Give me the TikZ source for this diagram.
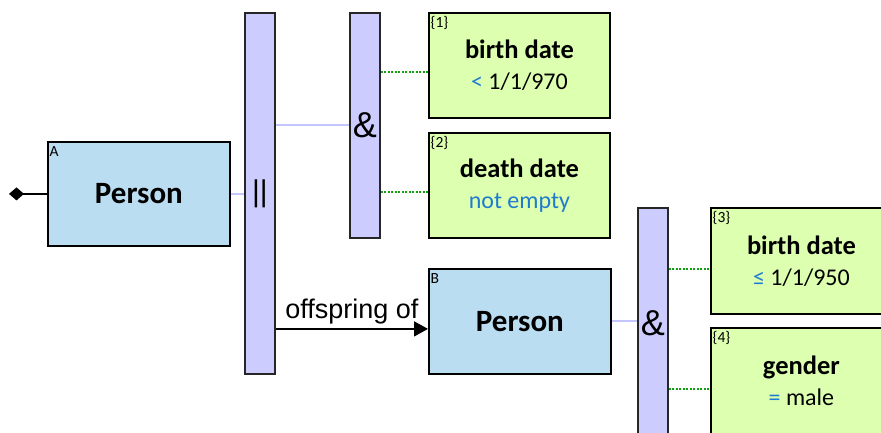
\documentclass[tikz,border=0pt]{standalone}
\usepackage{fontspec}
\setmainfont{Carlito}
\newfontfamily\arial{Liberation Sans}
\usetikzlibrary{arrows.meta}
\definecolor{clsfill}{HTML}{BBDDF2}
\definecolor{barfill}{HTML}{CCCCFF}
\definecolor{condfill}{HTML}{DDFFB0}
\definecolor{qblue}{HTML}{1E7BD0}
\definecolor{dotgreen}{HTML}{11A011}
\definecolor{lav}{HTML}{C4C4FF}
\tikzset{
  cls/.style={draw=black, line width=1.8pt, fill=clsfill, anchor=north west, inner sep=0pt,
    minimum width=182pt, minimum height=104pt, font=\fontsize{31}{34}\selectfont\bfseries},
  opbar/.style={draw=black!85, line width=1.8pt, fill=barfill, anchor=north west, inner sep=0pt,
    minimum width=30pt, font=\arial\fontsize{36}{36}\selectfont},
  cond/.style={draw=black, line width=1.8pt, fill=condfill, anchor=north west, inner sep=0pt,
    minimum width=181pt, minimum height=105pt, align=center, font=\fontsize{24}{31}\selectfont},
  tag/.style={anchor=north west, inner xsep=2.5pt, inner ysep=3pt, text height=12pt,
    font=\fontsize{15.5}{15.5}\selectfont},
  lavline/.style={draw=lav, line width=2pt},
  dotline/.style={draw=dotgreen, line width=2pt, dash pattern=on 2pt off 1.5pt}
}
\begin{document}
\begin{tikzpicture}[x=1pt,y=-1pt]
\useasboundingbox (0,0) rectangle (881,432);
\clip (0,0) rectangle (881,432);
% operator bars
\node[opbar, minimum height=361pt] (orbar) at (244,12) {\fontsize{30}{30}\selectfont||};
\node[opbar, minimum height=225pt] (and1) at (349,12) {\&};
\node[opbar, minimum height=230pt] (and2) at (637,207) {\&};
% classes
\node[cls] (A) at (47,141) {Person};
\node[tag] at (A.north west) {A};
\node[cls, minimum height=105pt] (B) at (428,268) {Person};
\node[tag] at (B.north west) {B};
% conditions
\node[cond] (c1) at (428,12) {{\fontsize{26.5}{31}\selectfont\bfseries birth date}\\\textcolor{qblue}{<} 1/1/970};
\node[tag] at (c1.north west) {\{1\}};
\node[cond] (c2) at (428,132) {{\fontsize{26.5}{31}\selectfont\bfseries death date}\\\textcolor{qblue}{not empty}};
\node[tag] at (c2.north west) {\{2\}};
\node[cond, minimum height=106pt] (c3) at (710,207) {{\fontsize{26.5}{31}\selectfont\bfseries birth date}\\\textcolor{qblue}{≤} 1/1/950};
\node[tag] at (c3.north west) {\{3\}};
\node[cond, minimum height=106pt] (c4) at (710,327) {{\fontsize{26.5}{31}\selectfont\bfseries gender}\\\textcolor{qblue}{=} male};
\node[tag] at (c4.north west) {\{4\}};
% start diamond
\coordinate (start) at ([xshift=-38pt]A.west);
\draw[line width=1.6pt, {Diamond[length=15pt,width=13pt]}-] (start) -- (A.west);
% connectors
\draw[lavline] (A.east) -- (A.east -| orbar.west);
\draw[lavline] (and1.west -| orbar.east) -- (and1.west);
\draw[dotline] ([yshift=-7pt]c1.west -| and1.east) -- ([yshift=-7pt]c1.west);
\draw[dotline] ([yshift=-7pt]c2.west -| and1.east) -- ([yshift=-7pt]c2.west);
\draw[lavline] (B.east) -- (B.east -| and2.west);
\draw[dotline] ([yshift=-8pt]c3.west -| and2.east) -- ([yshift=-8pt]c3.west);
\draw[dotline] ([yshift=-8pt]c4.west -| and2.east) -- ([yshift=-8pt]c4.west);
\draw[line width=1.6pt, -{Triangle[length=14pt,width=15pt]}] ([yshift=-7.5pt]B.west -| orbar.east) -- node[above=1pt, font=\arial\fontsize{27}{27}\selectfont] (lbl) {offspring of} ([yshift=-7.5pt]B.west);
\end{tikzpicture}
\end{document}
